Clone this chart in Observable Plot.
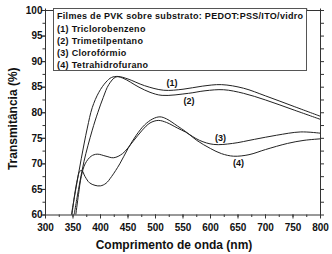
<!DOCTYPE html>
<html><head><meta charset="utf-8">
<script src="https://cdn.jsdelivr.net/npm/d3@7"></script>
<script src="https://cdn.jsdelivr.net/npm/@observablehq/plot@0.6"></script>
<style>
body{margin:0;background:#fff;}
#wrap{position:relative;width:332px;height:254px;font-family:"Liberation Sans",Arial,sans-serif;}
#legend{position:absolute;left:53px;top:8px;width:254px;height:63px;border:1px solid #555;background:#fff;box-sizing:border-box;font-size:9px;font-weight:bold;color:#111;letter-spacing:0.3px;}
#legend div{position:absolute;left:3px;white-space:nowrap;line-height:10px;}
</style></head><body><div id="wrap"></div>
<script>
const legendTitle = "Filmes de PVK sobre substrato: PEDOT:PSS/ITO/vidro";
const seriesNames = ["(1) Triclorobenzeno","(2) Trimetilpentano","(3) Clorofórmio","(4) Tetrahidrofurano"];
const xLabel = "Comprimento de onda (nm)";
const yLabel = "Transmitância (%)";
const xTicks = [300,350,400,450,500,550,600,650,700,750,800];
const yTicks = [60,65,70,75,80,85,90,95,100];

const wl1 = [347,355,365,376,385,397,410,420,432,450,480,515,550,585,620,660,700,750,800];
const t1  = [60,65,71,77,81,84,86,86.9,87.1,86.6,85.3,84.4,84.6,85.2,85.5,84.8,83.3,81.3,79.3];
const wl2 = [352,360,370,385,395,405,415,428,440,470,490,512,560,590,624,660,700,750,800];
const t2  = [60,65,70.5,76.6,80,83,85.5,87,86.8,85,84,83.4,83.8,84.3,84.5,83.8,82.5,80.6,78.7];
const wl3 = [355,360,365,372,383,394,410,424,440,460,476,490,505,520,540,555,580,606,640,680,720,764,800];
const t3  = [60,64,67.5,70,71.5,71.9,71.5,71.2,72,74.5,76.6,78,78.5,78.1,77,76.2,74.6,73.8,74,74.8,75.6,76.25,76];
const wl4 = [348,353,358,362,366,372,380,390,400,410,420,435,450,465,480,495,508,520,540,555,575,600,620,642,670,700,740,770,800];
const t4  = [60,64,67,68.5,68.7,67.5,66.3,65.8,65.7,66.2,67.5,70,73,75.6,77.6,78.8,79.2,78.8,77.4,76.3,74.6,73,72,71.5,71.8,72.8,74,74.6,74.9];

const curveLabels = ["(1)","(2)","(3)","(4)"];
const labelX = [530,561,618,651];
const labelY = [85.8,82.2,75,70.1];

const rows = [];
[[wl1,t1],[wl2,t2],[wl3,t3],[wl4,t4]].forEach(([w,t],i)=>{
  w.forEach((x,j)=>rows.push({s:seriesNames[i],x,y:t[j]}));
});
const labels = curveLabels.map((l,i)=>({l,x:labelX[i],y:labelY[i]}));
const minorX = d3.range(300,800.1,25);
const minorY = d3.range(60,100.1,2.5);
const font = "Liberation Sans, Arial, sans-serif";

const chart = Plot.plot({
  width:332, height:254,
  marginLeft:45, marginRight:12, marginTop:10, marginBottom:39.5,
  style:{fontFamily:font, background:"#fff", color:"#111"},
  x:{domain:[300,800], label:null},
  y:{domain:[60,100], label:null},
  marks:[
    Plot.frame({stroke:"#333"}),
    Plot.axisX({ticks:minorX, tickSize:2.5, text:null, label:null, stroke:"#333"}),
    Plot.axisX({ticks:xTicks, tickSize:4, tickPadding:4.5, fontSize:10, fontWeight:"bold", label:null, stroke:"#333", fill:"#111"}),
    Plot.axisX({anchor:"top", ticks:minorX, tickSize:2.5, text:null, label:null, stroke:"#333"}),
    Plot.axisY({ticks:minorY, tickSize:2.5, text:null, label:null, stroke:"#333"}),
    Plot.axisY({ticks:yTicks, tickSize:4, tickPadding:-1, fontSize:10, fontWeight:"bold", label:null, stroke:"#333", fill:"#111"}),
    Plot.axisY({anchor:"right", ticks:minorY, tickSize:3, text:null, label:null, stroke:"#333"}),
    Plot.line(rows,{x:"x",y:"y",z:"s",curve:"catmull-rom",stroke:"#222",strokeWidth:1,clip:true}),
    Plot.text(labels,{x:"x",y:"y",text:"l",fontSize:9,fontWeight:"bold",fill:"#111"}),
    Plot.text([xLabel],{frameAnchor:"bottom",lineAnchor:"middle",textAnchor:"middle",dx:-9,dy:30.5,fontSize:12,fontWeight:"bold",fill:"#111"}),
    Plot.text([yLabel],{frameAnchor:"left",textAnchor:"middle",lineAnchor:"middle",dx:-32,dy:6,rotate:-90,fontSize:12,fontWeight:"bold",fill:"#111"})
  ]
});
const wrap = document.getElementById("wrap");
wrap.appendChild(chart);
const leg = document.createElement("div");
leg.id = "legend";
const tops = [1.5,15,27,39,51];
[legendTitle,...seriesNames].forEach((t,i)=>{
  const d = document.createElement("div");
  d.textContent = t; d.style.top = tops[i]+"px";
  leg.appendChild(d);
});
wrap.appendChild(leg);
</script></body></html>
